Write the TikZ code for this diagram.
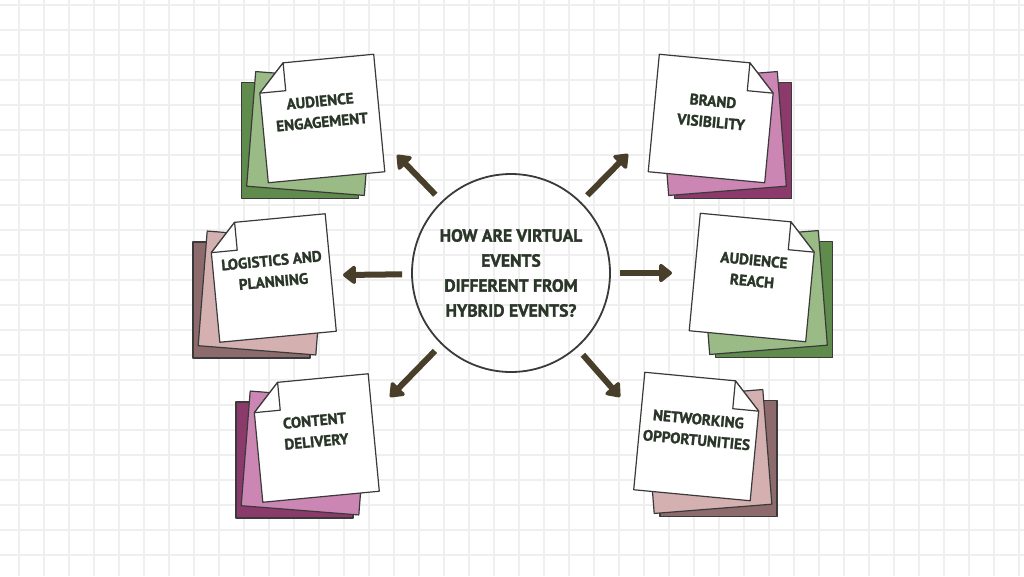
\documentclass[tikz,border=0pt]{standalone}
\usepackage{fontspec}
\setmainfont{PT Sans}[BoldFeatures={FakeBold=1.6}]
\usetikzlibrary{arrows.meta, calc}
\definecolor{gGrid}{HTML}{EFEFEF}
\definecolor{gInk}{HTML}{2A3628}
\definecolor{gArrow}{HTML}{483E29}
\definecolor{gEdge}{HTML}{3A3A3A}
\definecolor{gDarkGreen}{HTML}{5F8B4C}
\definecolor{gLightGreen}{HTML}{9BBB86}
\definecolor{gDarkPlum}{HTML}{8C3A6B}
\definecolor{gPink}{HTML}{CB86B4}
\definecolor{gDarkMauve}{HTML}{8D6B6D}
\definecolor{gLightMauve}{HTML}{D4B0B1}
\tikzset{
  gridline/.style={draw=gGrid, line width=1.5pt},
  sheet/.style={draw=gEdge, line width=1.2pt, line join=round},
  notetext/.style={text=gInk, align=center, font=\bfseries\fontsize{15.2}{21}\selectfont},
  link/.style={draw=gArrow, line width=6pt, -{Triangle[length=14pt, width=21pt, round]}, shorten <=9pt}
}

\begin{document}
\begin{tikzpicture}[x=1pt, y=-1pt]
    \useasboundingbox (0,0) rectangle (1024,576);
    \fill[white] (0,0) rectangle (1024,576);
    % grid
    \foreach \gx in {19,44,...,1019} {
      \draw[gridline] (\gx,0) -- (\gx,576);
    }
    \foreach \gy in {5,30,...,555} {
      \draw[gridline] (0,\gy) -- (1024,\gy);
    }
    % notes: back sheet, middle sheet, front sheet with folded corner
    \foreach \nm/\x/\y/\s/\back/\mid/\txt in {
        engage/321/118.5/1/gDarkGreen/gLightGreen/{AUDIENCE\\ENGAGEMENT},
        brand/712/118.5/-1/gDarkPlum/gPink/{BRAND\\VISIBILITY},
        logistics/272.5/278/1/gDarkMauve/gLightMauve/{LOGISTICS AND\\PLANNING},
        reach/753/277.5/-1/gDarkGreen/gLightGreen/{AUDIENCE\\REACH},
        content/315.5/438/1/gDarkPlum/gPink/{CONTENT\\DELIVERY},
        networking/697.5/436.5/-1/gDarkMauve/gLightMauve/{NETWORKING\\OPPORTUNITIES}} {
      \begin{scope}[shift={(\x,\y)}, xscale=\s]
        \draw[sheet, fill=\back] (-21,22) +(-58.5,-58) rectangle +(58.5,58);
        \draw[sheet, fill=\mid, rotate around={-4.5:(-11,15)}] (-11,15) +(-59,-57.5) rectangle +(59,57.5);
        \begin{scope}[rotate=5.4]
          \draw[sheet, fill=white] (-32.5,-59) -- (58.5,-59) -- (58.5,59) -- (-58.5,59) -- (-58.5,-31) -- cycle;
          \draw[sheet, fill=white] (-32.5,-59) -- (-32.5,-31) -- (-58.5,-31) -- cycle;
        \end{scope}
      \end{scope}
      \node[notetext, rotate=\s*5.4] (\nm) at (\x,\y-7) {\txt};
    }
    % question in the middle
    \node[circle, draw=gEdge, line width=1.8pt, minimum size=198pt, text=gInk, align=center,
      font=\bfseries\fontsize{17.5}{25}\selectfont] (hub) at (511,273)
      {HOW ARE VIRTUAL\\EVENTS\\DIFFERENT FROM\\HYBRID EVENTS?};
    \coordinate (toEngage) at (397,155);
    \coordinate (toBrand) at (628,154);
    \coordinate (toLogistics) at (343,275);
    \coordinate (toReach) at (672,273);
    \coordinate (toContent) at (390,397);
    \coordinate (toNetworking) at (620,397);
    \foreach \t in {toEngage, toBrand, toLogistics, toReach, toContent, toNetworking} {
      \draw[link] (hub) -- (\t);
    }
\end{tikzpicture}
\end{document}
